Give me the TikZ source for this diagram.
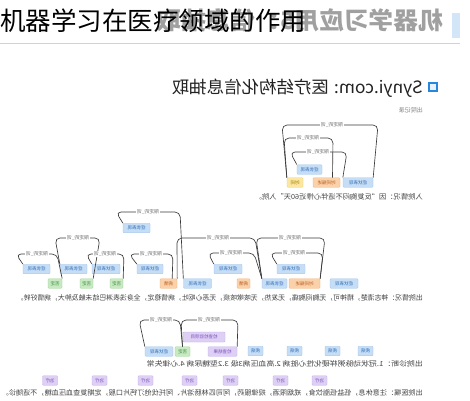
\documentclass[tikz,border=0pt]{standalone}
\usepackage{fontspec}
\usepackage{graphicx}
\setmainfont{Noto Sans CJK SC}
\newfontfamily\cjk{Noto Sans CJK SC}
\newcommand\mirr[1]{\reflectbox{#1}}
\newcommand\sentline[2]{\reflectbox{\resizebox{#1}{\height}{#2}}}
\definecolor{bfill}{HTML}{C6DDF6}
\definecolor{bdraw}{HTML}{9FC4EC}
\definecolor{btext}{HTML}{2F6DB5}
\definecolor{ofill}{HTML}{FBD1AA}
\definecolor{odraw}{HTML}{F3B27A}
\definecolor{otext}{HTML}{B85C1E}
\definecolor{gfill}{HTML}{C8E9C2}
\definecolor{gdraw}{HTML}{9DD495}
\definecolor{gtext}{HTML}{3D8B3D}
\definecolor{yfill}{HTML}{FBE7A2}
\definecolor{ydraw}{HTML}{EFD06A}
\definecolor{ytext}{HTML}{A07800}
\definecolor{pfill}{HTML}{DED0F4}
\definecolor{pdraw}{HTML}{C2AAEA}
\definecolor{ptext}{HTML}{7A4FBF}
\definecolor{arcc}{HTML}{3A3A3A}
\definecolor{lblc}{HTML}{666666}
\definecolor{senc}{HTML}{444444}
\tikzset{
  ent/.style={font=\cjk\fontsize{4.5}{5}\selectfont, inner sep=0pt, minimum height=9.5pt, rounded corners=0.8pt, line width=0.35pt},
  bl/.style={ent, fill=bfill, draw=bdraw, text=btext},
  org/.style={ent, fill=ofill, draw=odraw, text=otext},
  grn/.style={ent, fill=gfill, draw=gdraw, text=gtext},
  yel/.style={ent, fill=yfill, draw=ydraw, text=ytext},
  pur/.style={ent, fill=pfill, draw=pdraw, text=ptext},
  arc/.style={draw=arcc, line width=0.65pt, rounded corners=5pt},
  arclbl/.style={fill=white, inner sep=0.8pt, font=\cjk\fontsize{4.8}{5}\selectfont, text=lblc},
  sent/.style={anchor=east, inner sep=0pt, font=\cjk\fontsize{7}{8}\selectfont, text=senc}
}
% #1 start, #2 end, #3 xL, #4 xR, #5 Y, #6 label x, #7 label, #8 label name
\newcommand\deparc[8]{%
  \draw[arc] (#1) -- (#3,#5) -- (#4,#5) -- (#2);
  \node[arclbl] (#8) at (#6,#5) {\mirr{#7}};}
\begin{document}
\begin{tikzpicture}[x=1pt,y=-1pt]
\useasboundingbox (0,0) rectangle (470,400);
\fill[white] (0,0) rectangle (470,400);
% ---------- header ----------
\fill[fill={rgb,255:red,211;green,230;blue,247}] (452,13) rectangle (460,38);
\node[anchor=center, inner sep=0pt, font=\cjk\bfseries\fontsize{24}{26}\selectfont, text={rgb,255:red,160;green,160;blue,160}] (gtitle) at (300,20) {\sentline{286pt}{机器学习应用5：信息抽取}};
\node[anchor=west, inner sep=0pt, font=\cjk\fontsize{25.5}{28}\selectfont, text=black] (title) at (0,21) {机器学习在医疗领域的作用};
\draw[line width=0.8pt, draw={rgb,255:red,210;green,210;blue,210}] (0,43.5) -- (460,43.5);
% ---------- subtitle ----------
\node[draw={rgb,255:red,40;green,135;blue,220}, fill={rgb,255:red,232;green,242;blue,252}, line width=1.3pt, minimum size=8pt, inner sep=0pt] (sq) at (433,87) {};
\node[sent, font=\cjk\fontsize{17}{19}\selectfont, text={rgb,255:red,35;green,35;blue,35}] (sub) at (423,88) {\sentline{251pt}{Synyi.com: 医疗结构化信息抽取}};
\node[sent, font=\cjk\fontsize{6}{7}\selectfont, text={rgb,255:red,130;green,130;blue,130}] (hdr) at (423,110) {\mirr{出院记录}};
% ---------- section 1 ----------
\node[bl, minimum width=25pt] (B1) at (309.5,169.5) {\mirr{症状表现}};
\node[yel, minimum width=16pt] (Y1) at (295,182.5) {\mirr{时间}};
\node[org, minimum width=27pt] (O1) at (326.5,182.5) {\mirr{时间描述}};
\node[bl, minimum width=30pt] (B2) at (358,182.5) {\mirr{症状表现}};
\deparc{Y1.north west}{B2.north east}{282}{378}{125}{332}{限定的\_词}{l1}
\deparc{Y1.north west}{[xshift=6pt]O1.north}{284}{333}{138}{308}{限定的\_词}{l2}
\deparc{B1.north west}{B2.north west}{290}{347}{152}{318}{限定的\_词}{l3}
\node[sent] (s1) at (423,197) {\sentline{168pt}{入院情况：因“反复胸闷不适伴心悸近60天”入院。}};
% ---------- section 2 ----------
\node[bl, minimum width=27pt] (C0) at (136.5,228) {\mirr{症状表现}};
\node[bl, minimum width=27pt] (C1) at (36.5,269) {\mirr{症状表现}};
\node[bl, minimum width=27pt] (C2) at (73.5,269) {\mirr{症状表现}};
\node[bl, minimum width=28pt] (C3) at (106,269) {\mirr{症状表现}};
\node[bl, minimum width=26pt] (C4) at (150,269) {\mirr{症状表现}};
\node[bl, minimum width=28pt] (C5) at (228,269) {\mirr{症状表现}};
\node[bl, minimum width=28pt] (C6) at (291,269) {\mirr{症状表现}};
\node[grn, minimum width=14pt] (G1) at (55,283.5) {\mirr{否定}};
\node[grn, minimum width=13pt] (G2) at (86.5,283.5) {\mirr{否定}};
\node[grn, minimum width=13pt] (G3) at (116.5,283.5) {\mirr{否定}};
\node[org, minimum width=17pt] (O2) at (168.5,283.5) {\mirr{病情}};
\node[bl, minimum width=28pt] (D1) at (197.5,283.5) {\mirr{症状表现}};
\node[org, minimum width=13pt] (O3) at (243.5,283.5) {\mirr{病情}};
\node[bl, minimum width=25pt] (D2) at (274.5,283.5) {\mirr{症状表现}};
\node[org, minimum width=31pt] (O4) at (304.5,283.5) {\mirr{时间描述}};
\node[bl, minimum width=28pt] (D3) at (344,283.5) {\mirr{症状表现}};
\deparc{C1.north west}{G1.north east}{16}{57}{254}{37}{限定的\_词}{l4}
\deparc{C2.north west}{G2.north east}{55}{100}{238}{78}{限定的\_词}{l5}
\deparc{C3.north west}{G3.north east}{86}{124}{254}{105}{限定的\_词}{l6}
\deparc{C4.north west}{[xshift=-5pt]O2.north east}{129}{173}{254}{151}{限定的\_词}{l7}
\deparc{C0.north west}{D1.north west}{116}{180}{212}{148}{限定的\_词}{l8}
\deparc{O2.north east}{D2.north west}{177}{255}{238}{218}{限定的\_词}{l9}
\deparc{D2.north west}{O4.north east}{256}{325}{238}{290}{限定的\_词}{l10}
\deparc{C5.north west}{D2.north west}{208}{254}{253}{231}{限定的\_词}{l11}
\deparc{C6.north west}{O4.north east}{270}{323}{253}{294}{限定的\_词}{l12}
\node[sent] (s2) at (423,298) {\sentline{406pt}{出院情况：神志清楚，精神可，无胸闷胸痛，无发热，无咳嗽咳痰，无恶心呕吐，病情稳定，全身浅表淋巴结未触及肿大，病情好转。}};
% ---------- section 3 ----------
\node[pur, minimum width=42pt, minimum height=10pt] (P0) at (204,337) {\mirr{检查检验项目}};
\node[bl, minimum width=28pt] (H1) at (159,351.5) {\mirr{症状表现}};
\node[grn, minimum width=15pt] (G4) at (182.5,351.5) {\mirr{否定}};
\node[pur, minimum width=29pt] (P2) at (222.5,351.5) {\mirr{检查结果}};
\node[bl, minimum width=15pt] (K1) at (255.5,351) {\mirr{疾病}};
\node[bl, minimum width=15pt] (K2) at (294.5,351) {\mirr{疾病}};
\node[bl, minimum width=15pt] (K3) at (332.5,351) {\mirr{疾病}};
\node[bl, minimum width=15pt] (K4) at (365.5,351) {\mirr{疾病}};
\deparc{H1.north west}{G4.north}{139}{180}{320}{161}{限定的\_词}{l13}
\deparc{G4.north}{P2.north east}{181}{238}{320}{209}{限定的\_词}{l14}
\node[sent] (s3) at (423,363.5) {\sentline{276pt}{出院诊断：1.冠状动脉粥样硬化性心脏病 2.高血压病3级 3.2型糖尿病 4.心律失常}};
% ---------- section 4 ----------
\foreach \xx/\nm in {50/T1, 99.5/T2, 145.5/T3, 189.5/T4, 230.5/T5, 280.5/T6, 319.5/T7}
  \node[pur, minimum width=15pt] (\nm) at (\xx,380.5) {\mirr{治疗}};
\node[sent] (s4) at (423,392.5) {\sentline{421pt}{出院医嘱：注意休息，低盐低脂饮食，戒烟限酒，规律服药，阿司匹林肠溶片、阿托伐他汀钙片口服，定期复查血压血糖，不适随诊。}};
\end{tikzpicture}
\end{document}
